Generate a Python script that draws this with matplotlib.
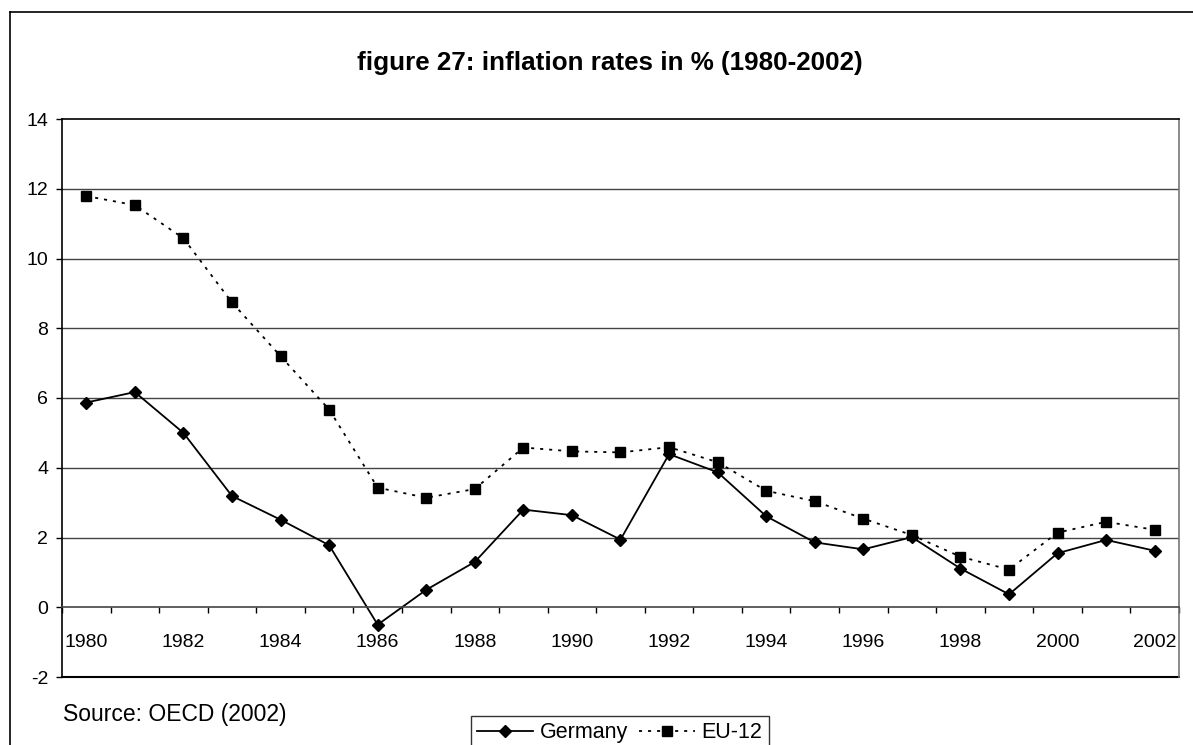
import numpy as np
import matplotlib
matplotlib.use("Agg")
import matplotlib.pyplot as plt
from matplotlib.lines import Line2D

plt.rcParams['font.family'] = ['Liberation Sans', 'DejaVu Sans']

years = list(range(1980, 2003))
germany = [5.87, 6.17, 5.0, 3.19, 2.51, 1.78, -0.5, 0.5, 1.3, 2.8, 2.64, 1.94,
           4.39, 3.87, 2.61, 1.86, 1.66, 2.01, 1.11, 0.37, 1.55, 1.93, 1.62]
eu12 = [11.79, 11.53, 10.58, 8.74, 7.2, 5.67, 3.43, 3.14, 3.39, 4.58, 4.47, 4.44,
        4.59, 4.16, 3.34, 3.04, 2.54, 2.07, 1.45, 1.08, 2.14, 2.45, 2.22]
yticks = [-2, 0, 2, 4, 6, 8, 10, 12, 14]

W, H = 1193, 745
fig = plt.figure(figsize=(W / 100, H / 100), dpi=100)

# plot area in pixel coords of the original
left, right, top, bottom = 62, 1179, 119, 677
ax = fig.add_axes([left / W, 1 - bottom / H, (right - left) / W, (bottom - top) / H])

x = np.arange(len(years))
ax.plot(x, germany, color='black', lw=1.3, marker='D', markersize=6.5, label='Germany')
ax.plot(x, eu12, color='black', lw=1.3, linestyle=(0, (1.7, 3.3)), marker='s',
        markersize=7.5, label='EU-12')

ax.set_xlim(-0.5, len(years) - 0.5)
ax.set_ylim(-2, 14)

# y axis
ax.set_yticks(yticks)
ax.set_yticklabels([str(v) for v in yticks], fontsize=14)
ax.tick_params(axis='y', direction='out', length=4, width=1, pad=6)
for v in yticks[1:-1]:
    if v != 0:
        ax.axhline(v, color='#444444', lw=1, zorder=0)

# x axis sits on zero line
ax.spines['bottom'].set_position(('data', 0))
ax.spines['bottom'].set_color('#444444')
ax.spines['bottom'].set_linewidth(1.2)
ax.set_xticks(x[::2])
ax.set_xticklabels([str(y) for y in years[::2]], fontsize=14)
ax.set_xticks(np.arange(-0.5, len(years), 1), minor=True)
ax.tick_params(axis='x', which='major', length=0, pad=19)
ax.tick_params(axis='x', which='minor', direction='out', length=4, width=1)

ax.spines['left'].set_linewidth(1.2)
ax.spines['top'].set_linewidth(1.2)
ax.spines['right'].set_color('#777777')
ax.spines['right'].set_linewidth(1.2)
ax.axhline(-2, color='black', lw=1.5, clip_on=False)

fig.text(610 / W, 1 - 70 / H, 'figure 27: inflation rates in % (1980-2002)',
         ha='center', va='baseline', fontsize=18.7, fontweight='bold')
fig.text(63 / W, 1 - 715 / H, 'Source: OECD (2002)', ha='left', va='center', fontsize=16.5)

leg = fig.legend(loc='upper left', bbox_to_anchor=(471 / W, 1 - 716 / H), ncol=2,
                 fontsize=15.5, frameon=True, fancybox=False, handlelength=2.6,
                 handletextpad=0.3, columnspacing=0.5, borderpad=0.3,
                 borderaxespad=0)
leg.get_frame().set_edgecolor('black')
leg.get_frame().set_linewidth(1)

# outer chart frame (top and left edges are visible)
fig.add_artist(Line2D([10 / W, 1], [1 - 12 / H, 1 - 12 / H], color='black', lw=1.2))
fig.add_artist(Line2D([10 / W, 10 / W], [0, 1 - 12 / H], color='black', lw=1.2))

fig.savefig('out.png', dpi=100)
